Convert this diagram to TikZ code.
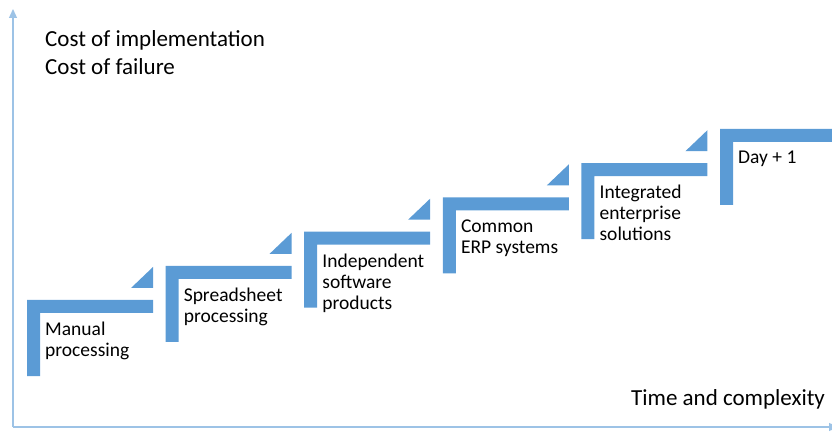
\documentclass[tikz,border=0pt]{standalone}
\usepackage{fontspec}
\setmainfont{Carlito}
\usetikzlibrary{arrows.meta}
\definecolor{stepblue}{HTML}{5B9BD5}
\definecolor{axisblue}{HTML}{9DC3E6}
\tikzstyle{corner}=[fill=stepblue]
\tikzstyle{arrowhead}=[fill=stepblue]
\tikzstyle{axis}=[draw=axisblue,line width=1.3pt,-{Triangle[length=9pt,width=8pt]}]
\tikzstyle{step label}=[anchor=north west,align=left,inner sep=0pt,font=\fontsize{19.5}{21}\selectfont]
\tikzstyle{axis label}=[anchor=base west,align=left,inner sep=0pt,font=\fontsize{23}{28}\selectfont]

\begin{document}
\begin{tikzpicture}[x=1pt,y=-1pt]
    \useasboundingbox (0,0) rectangle (832,435);

    % Axes
    \coordinate (origin) at (13,427);
    \coordinate (ytop) at (13,9);
    \coordinate (xend) at (838,427);
    \draw[axis] (origin) -- (ytop);
    \draw[axis] (origin) -- (xend);

    % Axis labels
    \node[axis label] (cost) at (45,75) {Cost of implementation\\Cost of failure};
    \node[axis label] (time) at (631,405) {Time and complexity};

    % Corners with labels
    \foreach \i/\name/\txt in {0/manual/{Manual\\processing},
                               1/sheet/{Spreadsheet\\processing},
                               2/indep/{Independent\\software\\products},
                               3/erp/{Common\\ERP systems},
                               4/integ/{Integrated\\enterprise\\solutions},
                               5/day/{Day + 1}}
    {
        \pgfmathsetmacro{\xa}{27+138.6*\i}
        \pgfmathsetmacro{\ya}{300-34.2*\i}
        \fill[corner] (\xa,\ya) -- ++(126,0) -- ++(0,13) -- ++(-113,0)
                      -- ++(0,63) -- ++(-13,0) -- cycle;
        \node[step label] (\name) at (\xa+18,\ya+22) {\txt};
    }

    % Arrow heads
    \foreach \i in {0,...,4}
    {
        \pgfmathsetmacro{\xa}{27+138.6*\i}
        \pgfmathsetmacro{\ya}{300-34.2*\i}
        \fill[arrowhead] (\xa+104,\ya-12) -- (\xa+126,\ya-12) -- (\xa+126,\ya-33) -- cycle;
    }

\end{tikzpicture}
\end{document}
